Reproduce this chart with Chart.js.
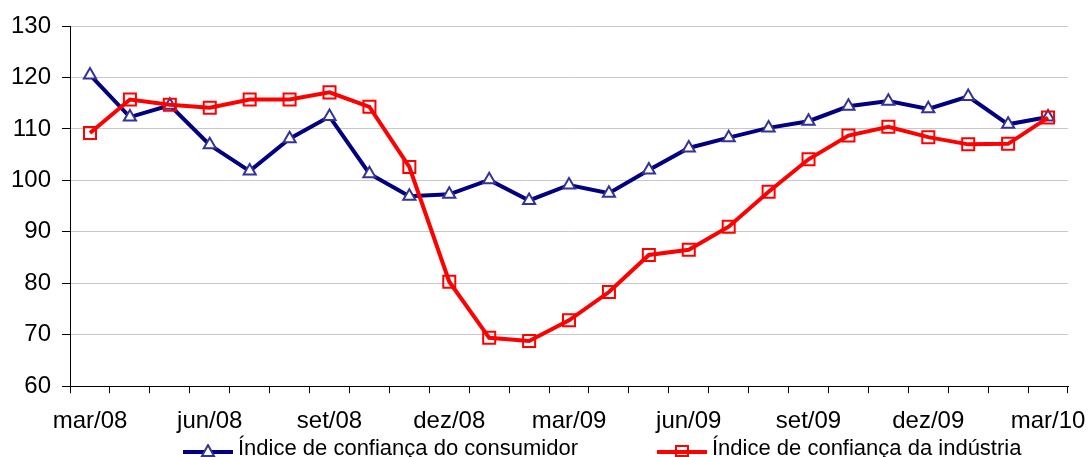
<!DOCTYPE html>
<html lang="pt-BR">
<head>
    <meta charset="UTF-8">
    <title>Índices de confiança</title>
    <script src="https://cdn.jsdelivr.net/npm/chart.js"></script>
    <style>
        body {
            margin: 0;
            background: #fff;
            font-family: "Liberation Sans", Arial, sans-serif;
        }
        #wrap {
            position: relative;
            width: 1091px;
            height: 457px;
        }
        #legend {
            position: absolute;
            top: 437px;
            left: 0;
            width: 1091px;
            height: 20px;
            font-size: 22px;
            line-height: 21px;
            color: #000;
        }
        .item {
            position: absolute;
            top: 0;
            white-space: nowrap;
        }
        .item svg {
            position: absolute;
            top: 7px;
        }
        .item span {
            position: absolute;
            left: 55px;
        }
    </style>
</head>
<body>
    <div id="wrap">
        <canvas id="chart"></canvas>
        <div id="legend"></div>
    </div>

    <script>
        const meses = ['mar/08', 'abr/08', 'mai/08', 'jun/08', 'jul/08', 'ago/08', 'set/08', 'out/08', 'nov/08',
            'dez/08', 'jan/09', 'fev/09', 'mar/09', 'abr/09', 'mai/09', 'jun/09', 'jul/09', 'ago/09', 'set/09',
            'out/09', 'nov/09', 'dez/09', 'jan/10', 'fev/10', 'mar/10'];

        const consumidor = [120.5, 112.3, 114.6, 106.9, 101.8, 108.1, 112.4, 101.3, 96.9, 97.3, 100.1, 96.1, 99.1,
            97.5, 102.0, 106.3, 108.3, 110.2, 111.5, 114.4, 115.4, 113.9, 116.3, 110.9, 112.3];
        const industria = [109.2, 115.7, 114.7, 114.1, 115.7, 115.7, 117.1, 114.3, 102.6, 80.3, 69.4, 68.8, 72.8,
            78.3, 85.5, 86.5, 91.0, 97.8, 104.1, 108.7, 110.4, 108.4, 107.0, 107.1, 112.2];

        const yTicks = [60, 70, 80, 90, 100, 110, 120, 130];

        const fonte = '"Liberation Sans", Arial, sans-serif';

        const ctx = document.getElementById('chart').getContext('2d');
        const chart = new Chart(ctx, {
            type: 'line',
            data: {
                labels: meses,
                datasets: [{
                    label: 'Índice de confiança do consumidor',
                    data: consumidor,
                    borderColor: '#000080',
                    borderWidth: 4,
                    pointStyle: 'triangle',
                    pointRadius: 7,
                    pointBorderColor: '#333399',
                    pointBackgroundColor: '#ffffff',
                    pointBorderWidth: 2,
                    tension: 0,
                    order: 1
                }, {
                    label: 'Índice de confiança da indústria',
                    data: industria,
                    borderColor: '#ff0000',
                    borderWidth: 4,
                    pointStyle: 'rect',
                    pointRadius: 8.5,
                    pointBorderColor: '#ff0000',
                    pointBackgroundColor: 'rgba(255,255,255,0)',
                    pointBorderWidth: 2,
                    tension: 0,
                    order: 0
                }]
            },
            options: {
                responsive: true,
                maintainAspectRatio: false,
                animation: false,
                layout: {
                    padding: { left: 0, right: 23, top: 26, bottom: 7 }
                },
                plugins: {
                    legend: { display: false },
                    tooltip: { enabled: false }
                },
                scales: {
                    x: {
                        offset: true,
                        // o rótulo mar/10 pode invadir a margem direita
                        afterFit: axis => { axis.paddingRight = 0; },
                        grid: {
                            offset: true,
                            drawOnChartArea: false,
                            color: '#000',
                            tickLength: 7
                        },
                        border: { color: '#000', width: 1 },
                        ticks: {
                            autoSkip: false,
                            maxRotation: 0,
                            minRotation: 0,
                            padding: 14,
                            color: '#000',
                            font: { family: fonte, size: 24 },
                            callback: (v, i) => (i % 3 === 0 ? meses[i] : '')
                        }
                    },
                    y: {
                        min: yTicks[0],
                        max: yTicks[yTicks.length - 1],
                        afterBuildTicks: axis => {
                            axis.ticks = yTicks.map(v => ({ value: v }));
                        },
                        grid: {
                            color: '#c8c8c8',
                            tickColor: '#000',
                            tickLength: 8
                        },
                        border: { color: '#000', width: 1 },
                        ticks: {
                            padding: 11,
                            color: '#000',
                            font: { family: fonte, size: 24 }
                        }
                    }
                }
            }
        });

        // legenda em HTML (linha + marcador + texto)
        const legendPos = [183, 657];
        const legend = document.getElementById('legend');
        chart.data.datasets.forEach((ds, i) => {
            const div = document.createElement('div');
            div.className = 'item';
            div.style.left = legendPos[i] + 'px';
            let marker;
            if (ds.pointStyle === 'triangle') {
                marker = `<polygon points="25,1 31,12 19,12" fill="#fff" stroke="${ds.pointBorderColor}" stroke-width="2"/>`;
            } else {
                marker = `<rect x="19" y="2" width="12" height="10" fill="none" stroke="${ds.pointBorderColor}" stroke-width="2"/>`;
            }
            div.innerHTML = `
                <svg width="50" height="14">
                    <line x1="0" y1="8" x2="50" y2="8" stroke="${ds.borderColor}" stroke-width="4"/>
                    ${marker}
                </svg>
                <span>${ds.label}</span>`;
            legend.appendChild(div);
        });
    </script>
</body>
</html>
